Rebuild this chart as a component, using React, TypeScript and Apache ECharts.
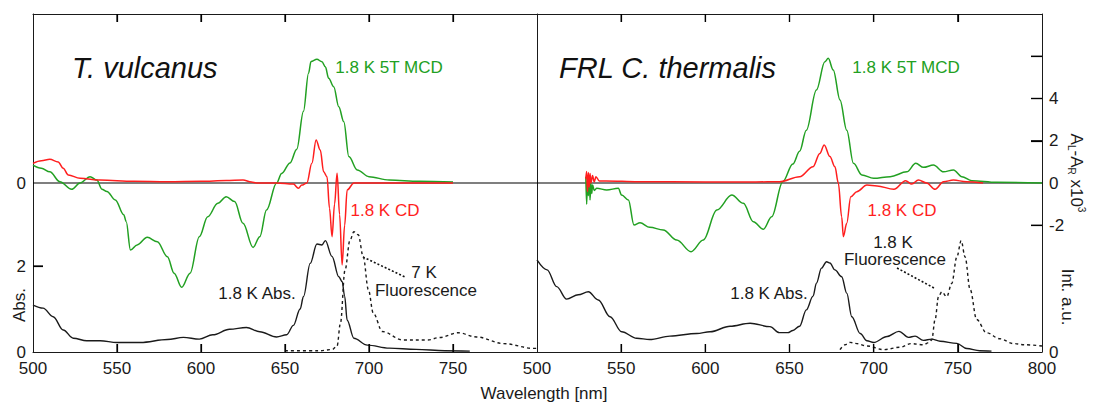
import React, { useEffect, useRef } from "react";
import * as echarts from "echarts";

// ---- T. vulcanus (left panel) ----
const tvMcdNm = [500, 505, 510, 516, 523, 528, 534, 538, 541, 544, 549, 554, 555.5, 558, 562, 568, 574, 580, 584, 588.5, 593.5, 599, 604, 610, 615, 620, 625, 631, 635, 639, 645, 648, 653, 657, 661, 664, 665.5, 669, 672, 674, 676, 679, 682, 685, 688, 693, 700, 712, 730, 750];
const tvMcd = [0.85, 0.7, 0.53, 0.06, -0.3, 0, 0.3, 0.14, -0.29, -0.4, -0.8, -1.5, -1.83, -3.17, -2.93, -2.57, -2.78, -3.49, -4.27, -4.94, -4.27, -2.54, -1.6, -0.96, -0.65, -0.88, -1.91, -3.05, -2.54, -1.28, 0.0, 0.45, 0.95, 1.6, 3.4, 5.2, 5.75, 5.86, 5.74, 5.5, 4.96, 4.56, 3.61, 2.9, 1.25, 0.62, 0.3, 0.14, 0.08, 0.05];

const tvCdNm = [500, 505, 510, 515, 518, 521, 528, 540, 560, 580, 600, 615, 625, 630, 633, 645, 655, 658, 660, 663, 666, 668.5, 671, 673, 675, 676.5, 678, 679.5, 681, 682.5, 684, 685.5, 687, 691, 700, 750];
const tvCd = [0.93, 1.05, 1.12, 1.0, 0.7, 0.38, 0.22, 0.14, 0.08, 0.06, 0.08, 0.12, 0.14, 0.05, 0.0, 0.0, -0.05, -0.25, -0.1, 0, 0.93, 2.04, 1.56, 0.53, 0.3, -1.2, -2.54, -1.0, 0.46, -1.5, -3.88, -2.0, -0.33, 0, 0, 0];

const tvAbsNm = [500, 506, 512, 518, 524, 532, 540, 550, 564, 580, 589.5, 599, 607, 617, 627, 635, 645, 651, 655, 659, 661, 665, 669, 672, 674, 678, 682, 684, 685.5, 687, 691, 699, 712, 728, 745, 760];
const tvAbs = [1.09, 1.02, 0.82, 0.51, 0.32, 0.26, 0.26, 0.22, 0.22, 0.29, 0.34, 0.3, 0.4, 0.53, 0.57, 0.47, 0.35, 0.4, 0.62, 1.0, 1.29, 2.06, 2.51, 2.49, 2.59, 2.22, 1.75, 1.64, 1.3, 0.74, 0.32, 0.16, 0.09, 0.06, 0.03, 0.02];

const tvFlNm = [650, 670, 678, 681, 683, 685.7, 688.7, 691, 693.6, 696.6, 699.6, 702.6, 708, 720, 735, 742, 753, 764, 780, 798, 800];
const tvFl = [0.01, 0.01, 0.02, 0.05, 0.24, 0.68, 0.93, 1.0, 0.975, 0.79, 0.52, 0.32, 0.17, 0.1, 0.1, 0.12, 0.16, 0.125, 0.07, 0.03, 0.03];

// ---- FRL C. thermalis (right panel) ----
const ctMcdNm = [529, 529.5, 530, 530.5, 531, 531.5, 532, 532.5, 533, 534, 535.5, 541.4, 548.3, 550.3, 554.3, 557.6, 561.2, 567, 575, 583, 591.5, 598.8, 606.8, 615.7, 622.6, 628.5, 634.5, 639.4, 646, 652, 656, 660, 666, 671, 673, 676, 680, 684, 688, 693, 700, 709.8, 719.7, 725, 729.6, 735.5, 741.5, 747.4, 752.4, 758.3, 773, 800];
const ctMcd = [0.3, -1.0, 0.2, -0.6, 0.3, -0.8, 0.0, -0.5, -0.1, -0.35, -0.25, -0.33, -0.25, -0.57, -0.8, -1.99, -1.88, -2.1, -2.22, -2.7, -3.25, -2.7, -1.28, -0.57, -0.96, -1.83, -2.19, -1.6, 0.06, 0.9, 1.5, 2.5, 4.4, 5.74, 5.9, 5.35, 3.93, 2.5, 0.93, 0.38, 0.22, 0.3, 0.53, 0.93, 0.74, 0.85, 0.53, 0.62, 0.3, 0.11, 0.03, 0.0];

const ctCdNm = [529, 529.5, 530, 530.5, 531, 531.5, 532, 533, 534, 535, 537, 541, 560, 600, 630, 644, 656, 664, 668, 670.6, 674, 677, 679, 681, 682, 684, 686.4, 690, 696, 702, 712, 719, 722.6, 726.6, 731.5, 736.5, 741.5, 747.4, 755, 765];
const ctCd = [0.2, 0.55, -0.4, 0.5, -0.2, 0.45, 0.0, 0.35, 0.05, 0.3, 0.1, 0.1, 0.06, 0.05, 0.05, 0.06, 0.3, 0.77, 1.4, 1.8, 1.25, 0.77, 0, -1.6, -2.54, -1.91, -0.65, -0.41, -0.1, -0.14, -0.3, 0.11, -0.05, 0.14, 0, -0.3, 0.06, 0.14, 0.06, 0];

const ctAbsNm = [500, 506, 511.7, 517.6, 524.5, 530.5, 536.4, 543.4, 550.3, 559.2, 567, 579, 594.9, 602.8, 614.7, 626.6, 638.4, 644, 649, 652, 656, 660, 664, 666, 669, 672, 674, 677, 681, 684, 687, 692, 696, 700, 708, 715, 720.7, 724.6, 729.5, 734.5, 739.5, 749.4, 755.3, 763, 770];
const ctAbs = [2.14, 1.91, 1.52, 1.23, 1.33, 1.4, 1.21, 0.82, 0.47, 0.32, 0.29, 0.37, 0.43, 0.47, 0.6, 0.67, 0.59, 0.45, 0.45, 0.5, 0.6, 0.98, 1.3, 1.6, 1.95, 2.1, 2.07, 1.91, 1.75, 1.37, 0.82, 0.43, 0.26, 0.22, 0.36, 0.48, 0.34, 0.37, 0.27, 0.3, 0.25, 0.2, 0.08, 0.03, 0.02];

const ctFlNm = [680, 683, 686, 690, 696, 706, 716, 722, 729.5, 733, 734.5, 736.5, 738.5, 740.5, 743.4, 746.4, 749.4, 752, 754.3, 757.3, 761.2, 767, 775, 783, 790, 800];
const ctFl = [0.02, 0.06, 0.08, 0.07, 0.05, 0.02, 0.04, 0.07, 0.06, 0.08, 0.1, 0.27, 0.46, 0.5, 0.46, 0.57, 0.79, 0.925, 0.79, 0.52, 0.27, 0.16, 0.11, 0.07, 0.06, 0.05];

// axis ticks and labels
const xTickValues = [550, 600, 650, 700, 750];
const xLabelsLeft = [500, 550, 600, 650, 700, 750];
const xLabelsRight = [500, 550, 600, 650, 700, 750, 800];
const cdTickValues = [-2, 2, 4, 6];
const cdLabelValues = [-2, 0, 2, 4];
const absLabelValues = [0, 2];
const absTickValues = [2];

const FONT = '"Liberation Sans", Arial, Helvetica, sans-serif';
const INK = "#1a1a1a";
const GREEN = "#22a022";
const RED = "#ff1e1e";

const zip = (xs: number[], ys: number[]) => xs.map((x, i) => [x, ys[i]]);

export default function App() {
  const ref = useRef<HTMLDivElement>(null);

  useEffect(() => {
    if (!ref.current) return;
    const chart = echarts.init(ref.current, undefined, { renderer: "svg" });

    const frameLine = () => ({ show: true, onZero: false, lineStyle: { color: INK, width: 1 } });
    const labelStyle = { fontFamily: FONT, fontSize: 17, color: INK };
    const tickStyle = () => ({ color: "#000", width: 1.2 });

    // wavelength axes: 500–800 nm, ticks every 50 nm pointing into the frame
    const xAxisBase = (gridIndex: number, position: string, labels: number[] | null) => ({
      type: "value",
      gridIndex,
      position,
      min: 500,
      max: 800,
      interval: 50,
      axisLine: frameLine(),
      splitLine: { show: false },
      axisTick: { show: true, inside: true, length: 8, customValues: xTickValues, lineStyle: tickStyle() },
      axisLabel: labels
        ? { show: true, customValues: labels, margin: 8, ...labelStyle }
        : { show: false },
    });

    const line = (
      name: string,
      data: number[][],
      xAxisIndex: number,
      yAxisIndex: number,
      color: string,
      width: number,
      type: any = "solid",
      z = 3
    ) => ({
      name,
      type: "line",
      xAxisIndex,
      yAxisIndex,
      data,
      symbol: "none",
      showSymbol: false,
      smooth: 0.35,
      smoothMonotone: "x",
      silent: true,
      z,
      lineStyle: { color, width, type },
    });

    const absMax = 338 / 43;
    const flMax = 2.81;

    const annotations: any[] = [
      { type: "text", x: 72, y: 68, style: { text: "T. vulcanus", font: `italic 29px ${FONT}`, fill: "#111", verticalAlign: "middle" } },
      { type: "text", x: 559, y: 68, style: { text: "FRL C. thermalis", font: `italic 29px ${FONT}`, fill: "#111", verticalAlign: "middle" } },

      { type: "text", x: 389, y: 67, style: { text: "1.8 K 5T MCD", font: `17px ${FONT}`, fill: GREEN, align: "center", verticalAlign: "middle" } },
      { type: "text", x: 906, y: 67, style: { text: "1.8 K 5T MCD", font: `17px ${FONT}`, fill: GREEN, align: "center", verticalAlign: "middle" } },
      { type: "text", x: 385, y: 210, style: { text: "1.8 K CD", font: `17px ${FONT}`, fill: RED, align: "center", verticalAlign: "middle" } },
      { type: "text", x: 902, y: 210, style: { text: "1.8 K CD", font: `17px ${FONT}`, fill: RED, align: "center", verticalAlign: "middle" } },

      { type: "text", x: 257, y: 293, style: { text: "1.8 K Abs.", font: `17px ${FONT}`, fill: INK, align: "center", verticalAlign: "middle" } },
      { type: "text", x: 769, y: 293, style: { text: "1.8 K Abs.", font: `17px ${FONT}`, fill: INK, align: "center", verticalAlign: "middle" } },

      { type: "text", x: 424, y: 272, style: { text: "7 K", font: `17px ${FONT}`, fill: INK, align: "center", verticalAlign: "middle" } },
      { type: "text", x: 426, y: 290, style: { text: "Fluorescence", font: `17px ${FONT}`, fill: INK, align: "center", verticalAlign: "middle" } },
      { type: "line", shape: { x1: 363, y1: 257, x2: 405, y2: 277 }, style: { stroke: "#111", lineWidth: 1.6, lineDash: [2, 2] } },

      { type: "text", x: 893, y: 242, style: { text: "1.8 K", font: `17px ${FONT}`, fill: INK, align: "center", verticalAlign: "middle" } },
      { type: "text", x: 895, y: 259, style: { text: "Fluorescence", font: `17px ${FONT}`, fill: INK, align: "center", verticalAlign: "middle" } },
      { type: "line", shape: { x1: 897, y1: 268, x2: 934, y2: 288 }, style: { stroke: "#111", lineWidth: 1.6, lineDash: [2, 2] } },

      { type: "text", x: 19, y: 305, rotation: Math.PI / 2, style: { text: "Abs.", font: `17px ${FONT}`, fill: INK, align: "center", verticalAlign: "middle" } },
      { type: "text", x: 1067, y: 297, rotation: -Math.PI / 2, style: { text: "Int. a.u.", font: `17px ${FONT}`, fill: INK, align: "center", verticalAlign: "middle" } },
      {
        type: "text", x: 1076, y: 173, rotation: -Math.PI / 2,
        style: {
          text: "{m|A}{s|L}{m|-A}{s|R}{m| x10}{p|3}",
          align: "center", verticalAlign: "middle",
          rich: {
            m: { fontFamily: FONT, fontSize: 17, fill: INK, lineHeight: 20 },
            s: { fontFamily: FONT, fontSize: 10, fill: INK, verticalAlign: "bottom", lineHeight: 20 },
            p: { fontFamily: FONT, fontSize: 10, fill: INK, verticalAlign: "top", lineHeight: 20 },
          },
        },
      },

      { type: "text", x: 544, y: 393, style: { text: "Wavelength [nm]", font: `17px ${FONT}`, fill: INK, align: "center", verticalAlign: "middle" } },
    ];

    chart.setOption({
      animation: false,
      backgroundColor: "#fff",
      grid: [
        { left: 33, top: 14, width: 504, height: 338 },
        { left: 537, top: 14, width: 505, height: 338 },
      ],
      xAxis: [
        xAxisBase(0, "bottom", xLabelsLeft),
        xAxisBase(0, "top", null),
        xAxisBase(1, "bottom", xLabelsRight),
        xAxisBase(1, "top", null),
      ],
      yAxis: [
        // left panel: CD/MCD scale (zero line label)
        {
          type: "value", gridIndex: 0, position: "left", min: -8, max: 8,
          axisLine: frameLine(), splitLine: { show: false }, axisTick: { show: false },
          axisLabel: { show: true, customValues: [0], margin: 7, ...labelStyle },
        },
        // left panel: absorbance
        {
          type: "value", gridIndex: 0, position: "left", min: 0, max: absMax,
          axisLine: { show: false, onZero: false }, splitLine: { show: false },
          axisTick: { show: true, inside: true, length: 10, customValues: absTickValues, lineStyle: tickStyle() },
          axisLabel: { show: true, customValues: absLabelValues, margin: 7, ...labelStyle },
        },
        // left panel: fluorescence intensity
        { type: "value", gridIndex: 0, show: false, min: 0, max: flMax },
        // right panel: CD/MCD scale on the right
        {
          type: "value", gridIndex: 1, position: "right", min: -8, max: 8,
          axisLine: frameLine(), splitLine: { show: false },
          axisTick: { show: true, inside: true, length: 11, customValues: cdTickValues, lineStyle: tickStyle() },
          axisLabel: { show: true, customValues: cdLabelValues, margin: 7, ...labelStyle },
        },
        // right panel: dividing frame line
        {
          type: "value", gridIndex: 1, position: "left", min: -8, max: 8,
          axisLine: frameLine(), splitLine: { show: false }, axisTick: { show: false }, axisLabel: { show: false },
        },
        // right panel: absorbance
        { type: "value", gridIndex: 1, show: false, min: 0, max: absMax },
        // right panel: fluorescence intensity
        {
          type: "value", gridIndex: 1, position: "right", min: 0, max: flMax,
          axisLine: { show: false, onZero: false }, splitLine: { show: false }, axisTick: { show: false },
          axisLabel: { show: true, customValues: [0], margin: 7, ...labelStyle },
        },
      ],
      series: [
        line("zero-left", [[500, 0], [800, 0]], 0, 0, "#000", 1.2, "solid", 1),
        line("zero-right", [[500, 0], [800, 0]], 2, 3, "#000", 1.2, "solid", 1),
        line("T. vulcanus MCD", zip(tvMcdNm, tvMcd), 0, 0, GREEN, 1.5),
        line("T. vulcanus CD", zip(tvCdNm, tvCd), 0, 0, RED, 1.5, "solid", 4),
        line("T. vulcanus Abs", zip(tvAbsNm, tvAbs), 0, 1, INK, 1.4),
        line("T. vulcanus Fluorescence", zip(tvFlNm, tvFl), 0, 2, INK, 1.4, [3, 3]),
        line("C. thermalis MCD", zip(ctMcdNm, ctMcd), 2, 3, GREEN, 1.5),
        line("C. thermalis CD", zip(ctCdNm, ctCd), 2, 3, RED, 1.5, "solid", 4),
        line("C. thermalis Abs", zip(ctAbsNm, ctAbs), 2, 5, INK, 1.4),
        line("C. thermalis Fluorescence", zip(ctFlNm, ctFl), 2, 6, INK, 1.4, [3, 3]),
      ],
      graphic: annotations,
    });

    // Frame tick marks placed through the axes' own scales.
    const px = (finder: any, v: number): number => {
      const p = chart.convertToPixel(finder, v) as any;
      return Array.isArray(p) ? p[0] : p;
    };
    const tickLines: any[] = [];
    const seg = (x1: number, y1: number, x2: number, y2: number) => ({
      type: "line",
      z: 10,
      silent: true,
      shape: { x1, y1, x2, y2 },
      style: { stroke: "#000", lineWidth: 1.2 },
    });
    try {
      [[0, 0], [2, 3]].forEach(([xi, yi]) => {
        const yBottom = px({ yAxisIndex: yi }, -8);
        const yTop = px({ yAxisIndex: yi }, 8);
        xTickValues.forEach((v) => {
          const x = px({ xAxisIndex: xi }, v);
          if (isFinite(x) && isFinite(yBottom) && isFinite(yTop)) {
            tickLines.push(seg(x, yBottom, x, yBottom - 8));
            tickLines.push(seg(x, yTop, x, yTop + 8));
          }
        });
      });
      const xLeft = px({ xAxisIndex: 0 }, 500);
      absTickValues.forEach((v) => {
        const y = px({ yAxisIndex: 1 }, v);
        if (isFinite(xLeft) && isFinite(y)) tickLines.push(seg(xLeft, y, xLeft + 10, y));
      });
      const xRight = px({ xAxisIndex: 2 }, 800);
      cdTickValues.forEach((v) => {
        const y = px({ yAxisIndex: 3 }, v);
        if (isFinite(xRight) && isFinite(y)) tickLines.push(seg(xRight, y, xRight - 11, y));
      });
      if (tickLines.length) chart.setOption({ graphic: [...annotations, ...tickLines] });
    } catch (e) {
      // axis ticks above remain as drawn by the axes
    }

    return () => chart.dispose();
  }, []);

  return <div ref={ref} style={{ position: "absolute", left: 0, top: 0, width: 1093, height: 403 }} />;
}
